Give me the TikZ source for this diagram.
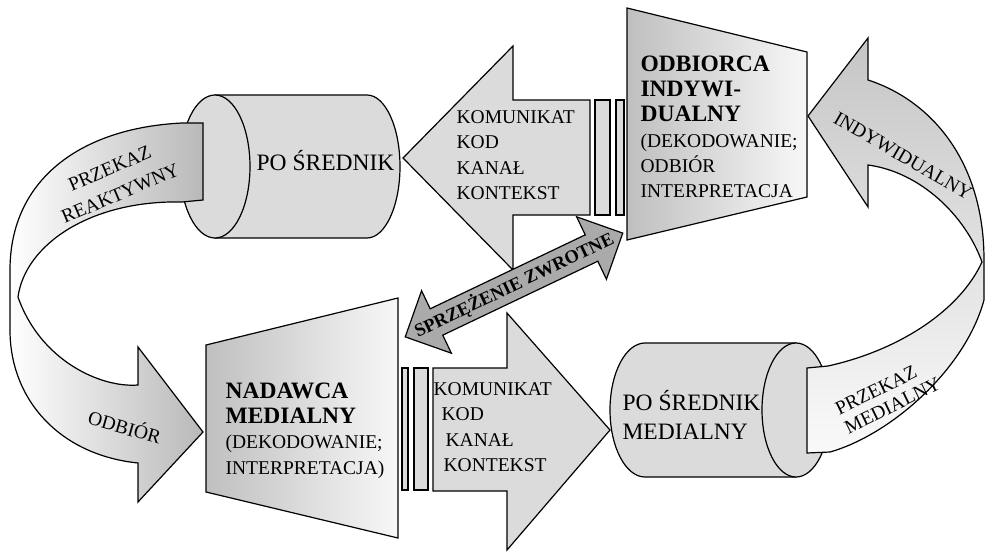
\documentclass[tikz,border=0pt]{standalone}
\usepackage{fontspec}
\setmainfont{Liberation Serif}
\usetikzlibrary{shapes.arrows}
\newcommand{\hdr}[1]{{\bfseries\fontsize{23.5}{25}\selectfont #1}}

\begin{document}
\begin{tikzpicture}[x=1pt,y=-1pt,line width=1.2pt,
  body/.style={draw,fill=gray!28},
  trap/.style={draw,left color=gray!50,right color=gray!6},
  txt/.style={inner sep=0pt,align=left,font=\fontsize{19.5}{25.3}\selectfont},
  big/.style={inner sep=0pt,align=left,font=\fontsize{23.5}{29}\selectfont}]
\useasboundingbox (0,0) rectangle (985,554);
\path[body] (215,95) -- (367,95) arc[start angle=90,end angle=-90,x radius=33pt,y radius=71.5pt] -- (215,238) -- cycle;
\path[body] (215,166.5) ellipse[x radius=35pt,y radius=71.5pt];
\path[draw,left color=white,right color=gray!55] (203,123) -- (182,123) .. controls (80,128) and (10,180) .. (10,270) -- (10,330) .. controls (10,400) and (60,455) .. (138,463) -- (138,502) -- (203,432) -- (138,347) -- (138,385) .. controls (100,388) and (40,360) .. (18,297) .. controls (25,245) and (90,200) .. (182,202) -- (203,200) -- cycle;
\path[body] (645,343) -- (796,343) -- (796,477) -- (645,477) arc[start angle=270,end angle=90,x radius=35pt,y radius=67pt] -- cycle;
\path[body] (796,410) ellipse[x radius=34pt,y radius=67pt];
\path[draw,top color=gray!45,bottom color=gray!4] (807,368) -- (828,366) .. controls (900,350) and (960,310) .. (982,262) .. controls (965,215) and (920,172) .. (868,165) -- (868,207) -- (808,116) -- (868,38) -- (868,80) .. controls (930,100) and (984,160) .. (984,260) -- (984,300) .. controls (965,370) and (890,435) .. (830,452) -- (807,453) -- cycle;
\path[body] (403,158) -- (513,46) -- (513,100) -- (590,100) -- (590,215) -- (513,215) -- (513,270) -- cycle;
\foreach \a/\b in {595/610,616/624} \path[body] (\a,100) rectangle (\b,215);
\path[trap] (627,8) -- (807,52) -- (807,197) -- (627,240) -- cycle;
\path[trap] (206,345) -- (398,298) -- (398,538) -- (206,492) -- cycle;
\foreach \a/\b in {402/408,414/428} \path[body] (\a,368) rectangle (\b,490);
\path[body] (433,368) -- (507,368) -- (507,313) -- (610,430) -- (507,550) -- (507,491) -- (433,491) -- cycle;
\node[big,anchor=base west] (p1) at (256,170) {PO ŚREDNIK};
\node[txt,anchor=north west] (k1) at (456,110) {KOMUNIKAT\\KOD\\KANAŁ\\KONTEKST};
\node[txt,anchor=north west] (odb) at (640,55) {\hdr{ODBIORCA}\\\hdr{INDYWI-}\\\hdr{DUALNY}\\(DEKODOWANIE;\\ODBIÓR\\INTERPRETACJA};
\node[txt,anchor=north west] (nad) at (225,382) {\hdr{NADAWCA}\\\hdr{MEDIALNY}\\(DEKODOWANIE;\\INTERPRETACJA)};
\node[txt,anchor=north west] (k2) at (433,382) {KOMUNIKAT\\\hspace*{8pt}KOD\\\hspace*{12pt}KANAŁ\\\hspace*{10pt}KONTEKST};
\node[big,anchor=north west] (p2) at (622,390) {PO ŚREDNIK\\MEDIALNY};
\node[txt,align=center,rotate=23,font=\fontsize{19.5}{27}\selectfont] (r1) at (115,181) {PRZEKAZ\\REAKTYWNY};
\node[txt,rotate=-16] (r2) at (125,426) {ODBIÓR};
\node[txt,rotate=-30] (r3) at (903,156) {INDYWIDUALNY};
\node[txt,rotate=26,font=\fontsize{19.5}{21}\selectfont] (r4) at (888,396) {PRZEKAZ\\MEDIALNY};
\node[double arrow,draw,fill=gray!67,double arrow head extend=20pt,minimum height=241pt,inner sep=0pt,text height=20pt,text depth=8pt,rotate=25.5,font=\bfseries\fontsize{18.5}{20}\selectfont] (fb) at (514,285) {\makebox[170pt][c]{SPRZĘŻENIE ZWROTNE}};
\end{tikzpicture}
\end{document}
